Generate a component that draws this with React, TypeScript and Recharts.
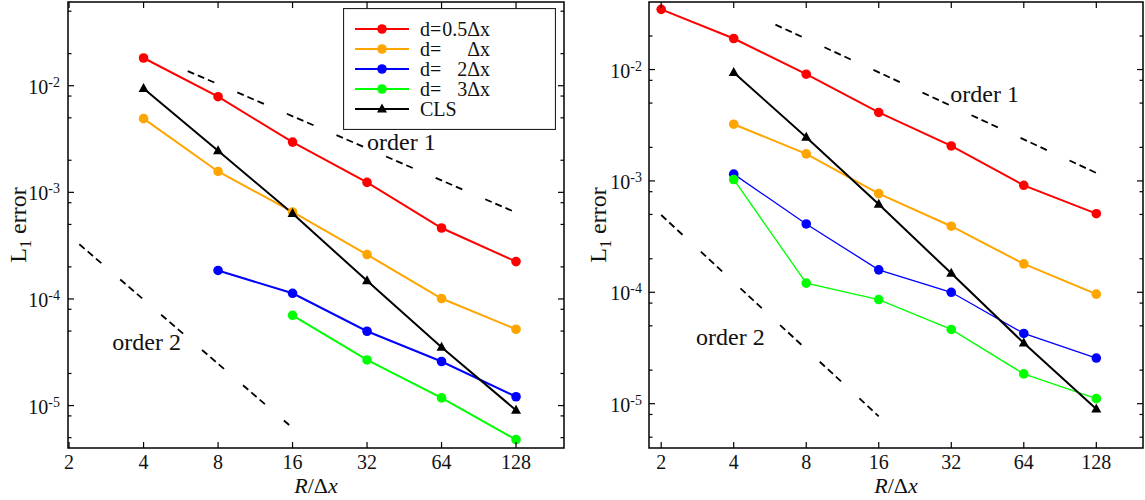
import React from "react";
import {
  LineChart,
  Line,
  XAxis,
  YAxis,
  Legend,
  ReferenceLine,
  ReferenceArea,
  ReferenceDot,
} from "recharts";

const FONT = '"Liberation Serif", "Times New Roman", serif';

// grid resolution R/Δx (x categories, log2 axis)
const resolutions = [2, 4, 8, 16, 32, 64, 128];

// left panel: L1 error per resolution (null = not computed)
const leftHalf = [null, 0.0182, 0.00789, 0.00296, 0.00124, 4.63e-4, 2.24e-4];
const leftOne = [null, 0.00491, 0.00157, 6.55e-4, 2.61e-4, 1.01e-4, 5.2e-5];
const leftTwo = [null, null, 1.85e-4, 1.13e-4, 4.98e-5, 2.59e-5, 1.21e-5];
const leftThree = [null, null, null, 7.03e-5, 2.68e-5, 1.18e-5, 4.79e-6];
const leftCls = [null, 0.00944, 0.00246, 6.32e-4, 1.48e-4, 3.52e-5, 9.04e-6];

// right panel
const rightHalf = [0.0347, 0.019, 0.00908, 0.00412, 0.00206, 9.13e-4, 5.08e-4];
const rightOne = [null, 0.00323, 0.00175, 7.69e-4, 3.92e-4, 1.8e-4, 9.62e-5];
const rightTwo = [null, 1.15e-3, 4.11e-4, 1.59e-4, 1.0e-4, 4.27e-5, 2.57e-5];
const rightThree = [null, 1.03e-3, 1.21e-4, 8.61e-5, 4.64e-5, 1.85e-5, 1.11e-5];
const rightCls = [null, 9.4e-3, 2.47e-3, 6.17e-4, 1.48e-4, 3.5e-5, 8.97e-6];

// slope guides, endpoints [R, error]
const leftOrder1 = [[6.03, 0.01373], [128, 6.47e-4]];
const leftOrder2 = [[2.2, 3.26e-4], [15.67, 6.43e-6]];
const rightOrder1 = [[5.96, 0.0253], [128, 1.18e-3]];
const rightOrder2 = [[2, 4.94e-4], [16, 7.7e-6]];

// guide captions, anchored at text start / baseline [R, error]
const leftCaptions = [
  { text: "order 1", at: [32.0, 2.5e-3] },
  { text: "order 2", at: [2.99, 3.35e-5] },
];
const rightCaptions = [
  { text: "order 1", at: [31.7, 5.12e-3] },
  { text: "order 2", at: [2.79, 3.39e-5] },
];

const seriesKeys = ["half", "one", "two", "three", "cls"];
const seriesNames = ["d=0.5Δx", "d=    Δx", "d=  2Δx", "d=  3Δx", "CLS"];
const seriesColors = ["#ff0000", "#ffa500", "#0000ff", "#00ff00", "#000000"];

const decades = [1e-5, 1e-4, 1e-3, 1e-2];
const minorSteps = [2, 5, 8];

function makeRows(cols: (number | null)[][]) {
  return resolutions.map((r, i) => {
    const row: Record<string, number | null> = { r };
    seriesKeys.forEach((k, j) => {
      row[k] = cols[j][i];
    });
    return row;
  });
}

function makeYTicks(domain: number[]) {
  const ticks: number[] = [];
  [1e-6, ...decades].forEach((d) => {
    [1, ...minorSteps].forEach((m) => {
      const v = d * m;
      if (v >= domain[0] && v <= domain[1]) ticks.push(v);
    });
  });
  return ticks.sort((a, b) => a - b);
}

const CircleDot = (props: any) => {
  const { cx, cy, stroke, value } = props;
  if (value == null || cx == null || cy == null || isNaN(cy)) return null;
  return <circle cx={cx} cy={cy} r={4.8} fill={stroke} />;
};

const TriangleDot = (props: any) => {
  const { cx, cy, value } = props;
  if (value == null || cx == null || cy == null || isNaN(cy)) return null;
  return (
    <polygon
      points={`${cx},${cy - 5.5} ${cx - 5},${cy + 3.5} ${cx + 5},${cy + 3.5}`}
      fill="#000"
    />
  );
};

const XTick = (props: any) => {
  const { x, y, payload, plotHeight } = props;
  return (
    <g>
      <line x1={x} x2={x} y1={y} y2={y - 6} stroke="#000" strokeWidth={1.2} />
      <line
        x1={x}
        x2={x}
        y1={y - plotHeight}
        y2={y - plotHeight + 6}
        stroke="#000"
        strokeWidth={1.2}
      />
      <text
        x={x}
        y={y + 21}
        textAnchor="middle"
        fontFamily={FONT}
        fontSize={20}
        fill="#111"
      >
        {payload.value}
      </text>
    </g>
  );
};

const YTick = (props: any) => {
  const { x, y, payload, plotWidth, labelGap } = props;
  const lg = Math.log10(payload.value);
  const exp = Math.round(lg);
  const major = Math.abs(lg - exp) < 1e-6;
  const len = major ? 6 : 3.5;
  return (
    <g>
      <line x1={x} x2={x + len} y1={y} y2={y} stroke="#000" strokeWidth={1.2} />
      <line
        x1={x + plotWidth}
        x2={x + plotWidth - len}
        y1={y}
        y2={y}
        stroke="#000"
        strokeWidth={1.2}
      />
      {major && (
        <text
          x={x - labelGap}
          y={y + 8}
          textAnchor="end"
          fontFamily={FONT}
          fontSize={20}
          fill="#111"
        >
          10
          <tspan dy={-7} fontSize={14}>
            {exp}
          </tspan>
        </text>
      )}
    </g>
  );
};

const renderLegend = (props: any) => {
  // keep the plotting order, not the legend's alphabetical sort
  const items = [...(props.payload || [])].sort(
    (a: any, b: any) => seriesKeys.indexOf(a.dataKey) - seriesKeys.indexOf(b.dataKey),
  );
  return (
    <svg width={213} height={122} style={{ display: "block" }}>
      <rect x={0.5} y={0.5} width={212} height={121} fill="#fff" stroke="#222" strokeWidth={1.2} />
      {items.map((item: any, i: number) => {
        const cy = 21 + i * 20;
        const name: string = item.value;
        const isCls = item.dataKey === "cls";
        return (
          <g key={i}>
            <line x1={12} x2={66} y1={cy} y2={cy} stroke={item.color} strokeWidth={2} />
            {isCls ? (
              <TriangleDot cx={39} cy={cy} value={1} />
            ) : (
              <circle cx={39} cy={cy} r={4.8} fill={item.color} />
            )}
            {name.startsWith("d=") ? (
              <>
                <text x={77} y={cy + 7} fontFamily={FONT} fontSize={20} fill="#111">
                  d=
                </text>
                <text x={147} y={cy + 7} textAnchor="end" fontFamily={FONT} fontSize={20} fill="#111">
                  {name.slice(2).trim()}
                </text>
              </>
            ) : (
              <text x={77} y={cy + 7} fontFamily={FONT} fontSize={20} fill="#111">
                {name}
              </text>
            )}
          </g>
        );
      })}
    </svg>
  );
};

interface PanelProps {
  rows: Record<string, number | null>[];
  width: number;
  yAxisWidth: number;
  marginRight: number;
  xDomain: number[];
  yDomain: number[];
  guides: number[][][];
  captions: { text: string; at: number[] }[];
  thinKeys?: string[];
  labelGap: number;
  titleX: number;
  showLegend?: boolean;
}

function ConvergencePanel({
  rows,
  width,
  yAxisWidth,
  marginRight,
  xDomain,
  yDomain,
  guides,
  captions,
  thinKeys = [],
  labelGap,
  titleX,
  showLegend,
}: PanelProps) {
  const height = 500;
  const top = 2;
  const xAxisHeight = 52;
  const plotHeight = height - top - xAxisHeight;
  const plotWidth = width - yAxisWidth - marginRight;

  return (
    <LineChart
      width={width}
      height={height}
      data={rows}
      margin={{ top, right: marginRight, bottom: 0, left: 0 }}
    >
      <XAxis
        dataKey="r"
        type="number"
        scale="log"
        domain={xDomain}
        allowDataOverflow
        ticks={resolutions}
        interval={0}
        height={xAxisHeight}
        tickSize={0}
        tickMargin={0}
        axisLine={false}
        tickLine={false}
        tick={<XTick plotHeight={plotHeight} />}
        label={(p: any) => {
          const vb = p.viewBox || {};
          return (
            <text
              x={vb.x + vb.width / 2}
              y={vb.y + 45}
              textAnchor="middle"
              fontFamily={FONT}
              fontSize={22}
              fill="#111"
            >
              <tspan fontStyle="italic">R</tspan>/Δ<tspan fontStyle="italic">x</tspan>
            </text>
          );
        }}
      />
      <YAxis
        type="number"
        scale="log"
        domain={yDomain}
        allowDataOverflow
        ticks={makeYTicks(yDomain)}
        interval={0}
        width={yAxisWidth}
        tickSize={0}
        tickMargin={0}
        axisLine={false}
        tickLine={false}
        tick={<YTick plotWidth={plotWidth} labelGap={labelGap} />}
        label={(p: any) => {
          const vb = p.viewBox || {};
          const cy = vb.y + vb.height / 2;
          return (
            <text
              x={titleX}
              y={cy}
              transform={`rotate(-90, ${titleX}, ${cy})`}
              textAnchor="middle"
              fontFamily={FONT}
              fontSize={24}
              fill="#111"
            >
              L<tspan dy={5} fontSize={16}>1</tspan>
              <tspan dy={-5}> error</tspan>
            </text>
          );
        }}
      />
      <ReferenceArea
        x1={xDomain[0]}
        x2={xDomain[1]}
        y1={yDomain[0]}
        y2={yDomain[1]}
        fill="none"
        stroke="#000"
        strokeWidth={1.5}
        ifOverflow="visible"
      />
      {guides.map((g, i) => (
        <ReferenceLine
          key={`guide-${i}`}
          segment={[
            { x: g[0][0], y: g[0][1] },
            { x: g[1][0], y: g[1][1] },
          ]}
          stroke="#000"
          strokeWidth={1.8}
          strokeDasharray="7 4 7 4 7 25"
          ifOverflow="visible"
        />
      ))}
      {captions.map((c, i) => (
        <ReferenceDot
          key={`cap-${i}`}
          x={c.at[0]}
          y={c.at[1]}
          r={0}
          fill="none"
          stroke="none"
          ifOverflow="visible"
          label={(p: any) => {
            const vb = p.viewBox || {};
            return (
              <text x={vb.x} y={vb.y} fontFamily={FONT} fontSize={24} fill="#111">
                {c.text}
              </text>
            );
          }}
        />
      ))}
      {seriesKeys.map((k, i) => (
        <Line
          key={k}
          type="linear"
          dataKey={k}
          name={seriesNames[i]}
          stroke={seriesColors[i]}
          strokeWidth={thinKeys.includes(k) ? 1.3 : 2}
          dot={k === "cls" ? <TriangleDot /> : <CircleDot />}
          activeDot={false}
          isAnimationActive={false}
        />
      ))}
      {showLegend && (
        <Legend
          layout="horizontal"
          verticalAlign="middle"
          align="center"
          content={renderLegend}
          wrapperStyle={{ position: "absolute", left: 343, top: 8, width: 213, height: 122 }}
        />
      )}
    </LineChart>
  );
}

export default function App() {
  const leftRows = makeRows([leftHalf, leftOne, leftTwo, leftThree, leftCls]);
  const rightRows = makeRows([rightHalf, rightOne, rightTwo, rightThree, rightCls]);

  return (
    <div
      style={{
        position: "absolute",
        left: 0,
        top: 0,
        width: 1145,
        height: 500,
        background: "#fff",
      }}
    >
      <div style={{ position: "absolute", left: 0, top: 0 }}>
        <ConvergencePanel
          rows={leftRows}
          width={570}
          yAxisWidth={68}
          marginRight={6}
          xDomain={[1.98, 200]}
          yDomain={[4e-6, 0.061]}
          guides={[leftOrder1, leftOrder2]}
          captions={leftCaptions}
          labelGap={8}
          titleX={26}
          showLegend
        />
      </div>
      <div style={{ position: "absolute", left: 575, top: 0 }}>
        <ConvergencePanel
          rows={rightRows}
          width={570}
          yAxisWidth={74}
          marginRight={2}
          xDomain={[1.78, 200]}
          yDomain={[4e-6, 0.0404]}
          guides={[rightOrder1, rightOrder2]}
          captions={rightCaptions}
          thinKeys={["two", "three"]}
          labelGap={7}
          titleX={31}
        />
      </div>
    </div>
  );
}
